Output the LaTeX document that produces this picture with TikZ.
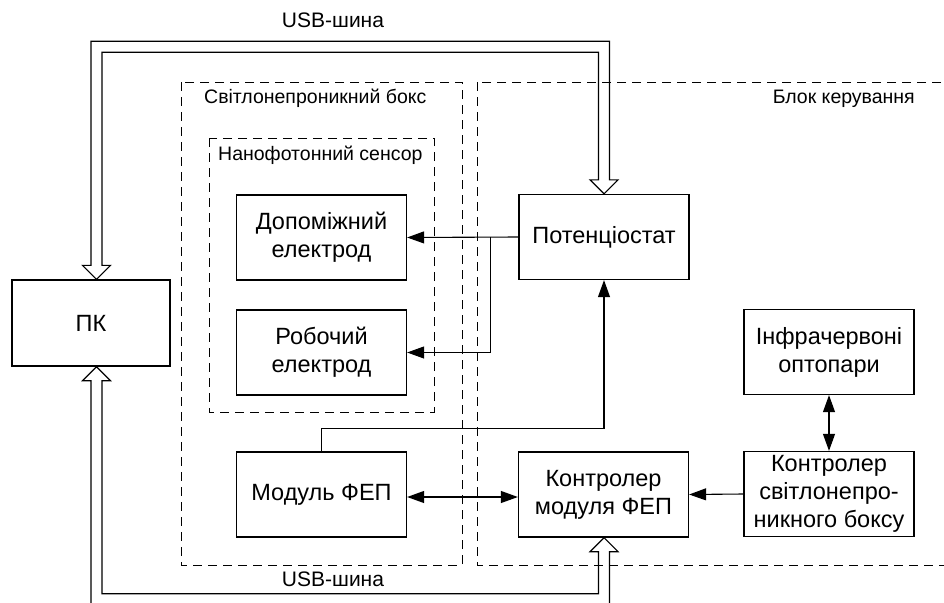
\documentclass[tikz,border=0pt]{standalone}
\usepackage{fontspec}
\setmainfont{Liberation Sans}
\usetikzlibrary{calc, positioning, arrows.meta}

\tikzset{
  blok/.style={draw, line width=1.3pt, minimum width=170pt, minimum height=85pt,
    inner sep=1pt, align=center, font=\fontsize{23.5}{28}\selectfont},
  ramka/.style={draw, line width=1pt, dash pattern=on 9pt off 6pt},
  pidpys/.style={inner sep=0pt, font=\fontsize{19.5}{23}\selectfont},
  strilka/.style={line width=1.1pt, -{Triangle[length=17pt, width=12pt]}},
  dvostr/.style={line width=1.1pt,
    {Triangle[length=17pt, width=12pt]}-{Triangle[length=17pt, width=12pt]}},
  kontur/.style={line width=1.2pt, line join=miter},
}

\begin{document}
\begin{tikzpicture}[x=1pt, y=-1pt]
  \useasboundingbox (0,0) rectangle (944,602);
  \clip (0,0) rectangle (944,602);

  % Dashed frames
  \draw[ramka] (181,82) rectangle (462,565);
  \draw[ramka] (209,138) rectangle (434,412);
  \draw[ramka] (477,82) rectangle (946,565);

  \node[pidpys, anchor=base west] (lboks) at (204,103) {Світлонепроникний бокс};
  \node[pidpys, anchor=base west] (lsensor) at (218,160) {Нанофотонний сенсор};
  \node[pidpys, anchor=base east] (lblok) at (915,103) {Блок керування};

  % Blocks
  \node[blok, minimum width=158pt, minimum height=86pt] (pk) at (91,323) {ПК};
  \node[blok] (dop) at (321.5,237.5) {Допоміжний\\електрод};
  \node[blok] (rob) at (321.5,352.5) {Робочий\\електрод};
  \node[blok] (pot) at (604,237) {Потенціостат};
  \node[blok] (infra) at (829,352) {Інфрачервоні\\оптопари};
  \node[blok] (modul) at (321.5,494.5) {Модуль ФЕП};
  \node[blok] (kmod) at (603.5,494.5) {Контролер\\модуля ФЕП};
  \node[blok] (kboks) at (829,494) {Контролер\\світлонепро-\\никного боксу};

  % Potentiostat to the electrodes
  \draw[strilka] (pot.west) -- (dop.east);
  \coordinate (vuzol) at ($(pot.west)+(-28,0)$);
  \draw[strilka] (vuzol) |- (rob.east);

  % FEP module to potentiostat
  \coordinate (izlam) at ($(pot.south)+(0,148)$);
  \draw[strilka] (modul.north) |- (izlam) -- (pot.south);

  \draw[dvostr] ([yshift=-2.5pt]modul.east) -- ([yshift=-2.5pt]kmod.west);
  \draw[strilka] (kboks.west) -- (kmod.east);
  \draw[dvostr] (infra.south) -- (kboks.north);

  % USB bus, top
  \coordinate (usbA) at ($(pk.north)+(5.5,0)$);
  \coordinate (usbB) at (pot.north);
  \draw[kontur] (usbA) -- ++(-14,-14) -- ++(8.5,0) |- ($(usbB)+(5.5,-152.5)$)
    -- ($(usbB)+(5.5,-14)$) -- ++(8.5,0) -- (usbB) -- ++(-14,-14) -- ++(8.5,0)
    |- ($(usbA)+(5.5,-227)$) -- ($(usbA)+(5.5,-14)$) -- ++(8.5,0) -- cycle;
  \node[pidpys, anchor=base, font=\fontsize{21}{25}\selectfont] (lusbA) at (333,28) {USB-шина};

  % USB bus, bottom
  \coordinate (usbC) at ($(pk.south)+(5.5,0)$);
  \coordinate (usbD) at ($(kmod.south)+(0.5,0)$);
  \draw[kontur] (usbC) -- ++(-14,14) -- ++(8.5,0) |- ($(usbD)+(5.5,67.5)$)
    -- ($(usbD)+(5.5,14)$) -- ++(8.5,0) -- (usbD) -- ++(-14,14) -- ++(8.5,0)
    |- ($(usbC)+(5.5,227)$) -- ($(usbC)+(5.5,14)$) -- ++(8.5,0) -- cycle;
  \node[pidpys, anchor=base, font=\fontsize{21}{25}\selectfont] (lusbB) at (333,586) {USB-шина};
\end{tikzpicture}
\end{document}
